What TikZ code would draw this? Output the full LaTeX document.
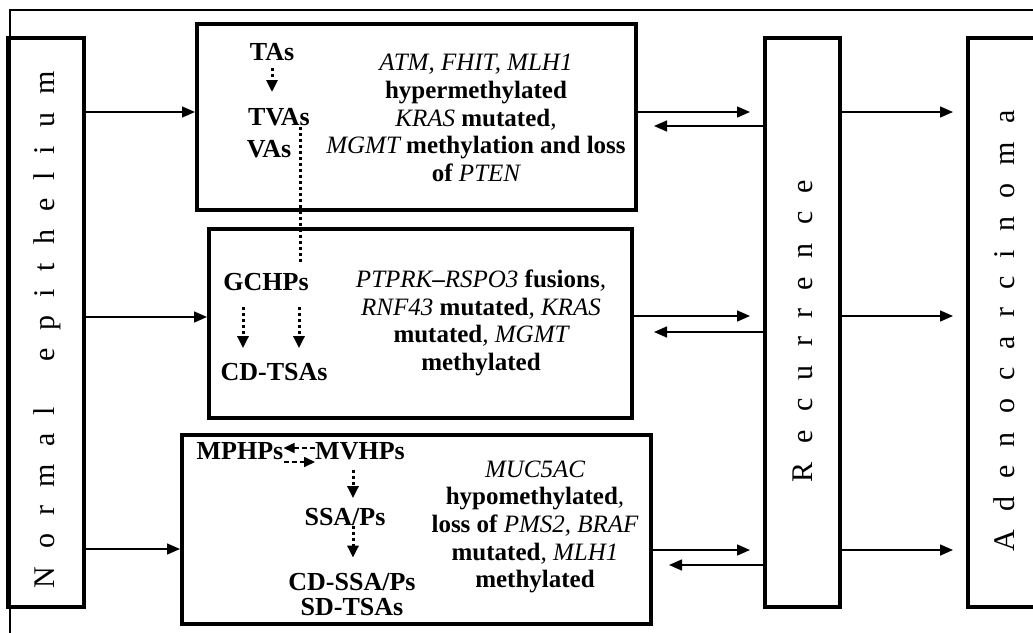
\documentclass[tikz,border=0pt]{standalone}
\usepackage{fontspec}
\setmainfont{Liberation Serif}
\usetikzlibrary{arrows.meta}
\makeatletter
\newcommand\spw[2]{\@tfor\spw@x:=#2\do{\spw@x\hspace{#1}}\unskip}
\makeatother
\newcommand\gn[1]{{\mdseries\itshape #1}}
\begin{document}
\begin{tikzpicture}[x=1pt,y=-1pt,
  bigbox/.style={draw, line width=4pt, inner sep=0pt},
  arr/.style={line width=1.5pt, -{Triangle[length=13pt,width=11pt]}},
  dotarr/.style={line width=3pt, dash pattern=on 3pt off 3pt, -{Triangle[length=12pt,width=11pt]}},
  dotline/.style={line width=3pt, dash pattern=on 3pt off 3pt},
  dasharr/.style={line width=1.6pt, dash pattern=on 5pt off 3pt, -{Triangle[length=11pt,width=10pt]}},
  lab/.style={font=\fontsize{26}{27.5}\selectfont\bfseries, inner sep=0pt, align=center},
  rtxt/.style={font=\fontsize{25}{27.7}\selectfont\bfseries, inner sep=0pt, align=center},
  vtext/.style={font=\fontsize{30}{30}\selectfont, rotate=90, inner sep=0pt},
]
\useasboundingbox (0,0) rectangle (1033,632);
\clip (0,0) rectangle (1033,632);
% outer frame
\draw[line width=1.5pt] (10,640) -- (10,10) -- (1040,10);
% big boxes
\node[bigbox, minimum width=76pt, minimum height=569pt] (ne) at (46,322.5) {};
\node[bigbox, minimum width=439pt, minimum height=186pt] (tb) at (416.5,117) {};
\node[bigbox, minimum width=423pt, minimum height=189pt] (mb) at (420.5,323.5) {};
\node[bigbox, minimum width=469pt, minimum height=189pt] (bb) at (416.5,529.5) {};
\node[bigbox, minimum width=75pt, minimum height=569pt] (rec) at (802.5,322.5) {};
\node[bigbox, minimum width=77pt, minimum height=569pt] (ad) at (1006.5,322.5) {};
% vertical texts
\node[vtext] (netext) at (47,330) {\spw{18pt}{Normal}\hspace{45pt}\spw{18pt}{epithelium}};
\node[vtext] (rectext) at (803,331) {\spw{18.4pt}{Recurrence}};
\node[vtext] (adtext) at (1004,331) {\spw{18.2pt}{Adenocarcinoma}};
% top box
\node[lab] (tas) at (272,52) {TAs};
\node[lab] (tvas) at (279,117) {TVAs};
\node[lab] (vas) at (269,149) {VAs};
\draw[dotarr, shorten <=7pt, shorten >=16pt] (tas.south) -- (tas.south |- tvas.north);
\node[rtxt] (t1) at (476,118) {\gn{ATM, FHIT, MLH1}\\ hypermethylated\\ \gn{KRAS} mutated\gn{,}\\ \gn{MGMT} methylation and loss\\ of \gn{PTEN}};
\coordinate (dtop) at (300,127);
\coordinate (dbot) at (300,263);
\draw[dotline] (dtop) -- (dbot);
% middle box
\node[lab] (gchps) at (266,282) {GCHPs};
\node[lab] (cdtsas) at (274,372) {CD-TSAs};
\draw[dotarr, shorten <=16pt, shorten >=15pt] (gchps.south -| 243,0) -- (cdtsas.north -| 243,0);
\draw[dotarr, shorten <=16pt, shorten >=15pt] (gchps.south -| 299,0) -- (cdtsas.north -| 299,0);
\node[rtxt] (t2) at (481,323) {\gn{PTPRK}--\gn{RSPO3} fusions\gn{,}\\ \gn{RNF43} mutated\gn{,} \gn{KRAS}\\ mutated\gn{,} \gn{MGMT}\\ methylated};
% bottom box
\node[lab] (mphps) at (240,451) {MPHPs};
\node[lab] (mvhps) at (360,451) {MVHPs};
\draw[dasharr] (mvhps.west |- 0,448) -- (mphps.east |- 0,448);
\draw[dasharr] (mphps.east |- 0,462) -- (mvhps.west |- 0,462);
\node[lab] (ssa) at (345,517) {SSA/Ps};
\node[lab, font=\fontsize{26}{25}\selectfont\bfseries] (cdssa) at (352,595) {CD-SSA/Ps\\ SD-TSAs};
\draw[dotarr, shorten <=10pt, shorten >=10pt] (mvhps.south -| 353,0) -- (ssa.north -| 353,0);
\draw[dotarr, shorten >=16pt] (ssa.south -| 353,0) -- (cdssa.north -| 353,0);
\node[rtxt] (t3) at (535,527) {\gn{MUC5AC}\\ hypomethylated\gn{,}\\ loss of \gn{PMS2, BRAF}\\ mutated\gn{,} \gn{MLH1}\\ methylated};
% arrows from normal epithelium
\draw[arr] (ne.east |- 0,112) -- (tb.west |- 0,112);
\draw[arr] (ne.east |- 0,317) -- (mb.west |- 0,317);
\draw[arr] (ne.east |- 0,549) -- (bb.west |- 0,549);
% boxes <-> recurrence
\draw[arr, shorten >=13pt] (tb.east |- 0,112) -- (rec.west |- 0,112);
\draw[arr, shorten >=16pt] (rec.west |- 0,126) -- (tb.east |- 0,126);
\draw[arr, shorten >=13pt] (mb.east |- 0,316) -- (rec.west |- 0,316);
\draw[arr, shorten >=20pt] (rec.west |- 0,332) -- (mb.east |- 0,332);
\draw[arr, shorten >=13pt] (bb.east |- 0,550) -- (rec.west |- 0,550);
\draw[arr, shorten >=16pt] (rec.west |- 0,565) -- (bb.east |- 0,565);
% recurrence -> adenocarcinoma
\draw[arr, shorten >=13pt] (rec.east |- 0,112) -- (ad.west |- 0,112);
\draw[arr, shorten >=13pt] (rec.east |- 0,316) -- (ad.west |- 0,316);
\draw[arr, shorten >=13pt] (rec.east |- 0,550) -- (ad.west |- 0,550);
\end{tikzpicture}
\end{document}
